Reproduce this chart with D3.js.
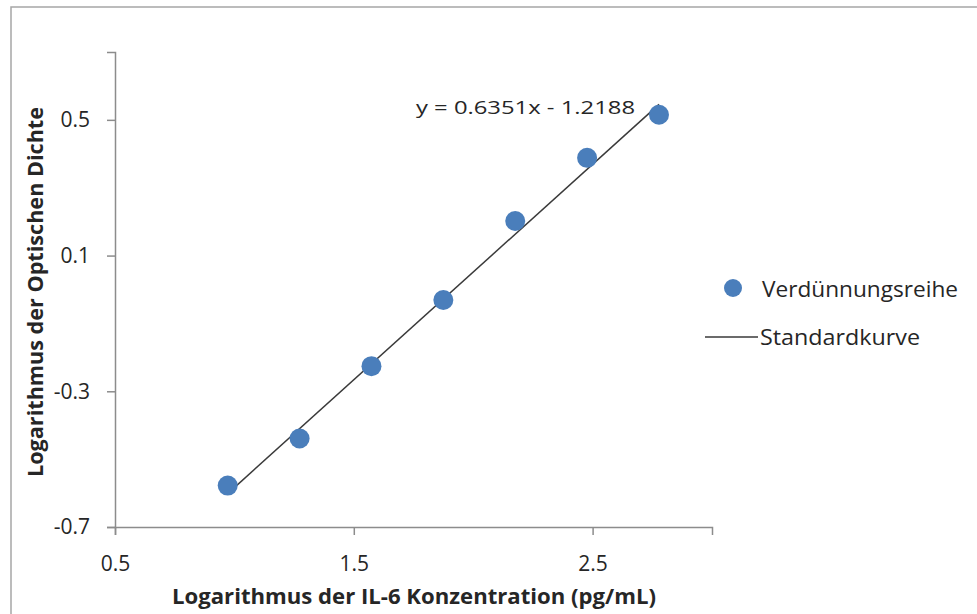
<!DOCTYPE html>
<html>
<head>
<meta charset="utf-8">
<script src="https://cdn.jsdelivr.net/npm/d3@7"></script>
<style>
  body { margin: 0; background: #fff; }
  text { font-family: "Open Sans", "Noto Sans", sans-serif; fill: #262626; }
</style>
</head>
<body>
<div id="chart"></div>
<script>
// log10 of the IL-6 dilution series (pg/mL) and log10 of the optical density
const logConc = [0.972, 1.273, 1.574, 1.875, 2.176, 2.477, 2.778];
const logOD = [-0.578, -0.439, -0.226, -0.031, 0.202, 0.388, 0.515];

// linear fit shown on the chart
const slope = 0.6351;
const intercept = -1.2188;

const xTicks = [0.5, 1.5, 2.5];
const yTicks = [-0.7, -0.3, 0.1, 0.5];
const xDomain = [0.5, 3.0];
const yDomain = [-0.7, 0.7];

const seriesName = 'Verdünnungsreihe';
const fitName = 'Standardkurve';
const xTitle = 'Logarithmus der IL-6 Konzentration (pg/mL)';
const yTitle = 'Logarithmus der Optischen Dichte';

const width = 977, height = 614;
const blue = '#4a7ebb';
const axisGrey = '#8c8c8c';

const xScale = d3.scaleLinear()
  .domain(xDomain)
  .range([115, 712])

const yScale = d3.scaleLinear()
  .domain(yDomain)
  .range([527, 52])

const svg = d3.select('#chart').append('svg')
  .attr('width', width)
  .attr('height', height)

// chart area frame
svg.append('rect')
  .attr('x', 11)
  .attr('y', 7)
  .attr('width', width + 10)
  .attr('height', height + 10)
  .attr('fill', 'none')
  .attr('stroke', '#a6a6a6')
  .attr('stroke-width', 1.5)

const xAxis = d3.axisBottom(xScale)
  .tickValues(xTicks)
  .tickSize(8)
  .tickPadding(21)
  .tickFormat(d3.format('.1f'))

const yAxis = d3.axisLeft(yScale)
  .tickValues(yTicks)
  .tickSize(8)
  .tickPadding(17)
  .tickFormat(d => d3.format('.1f')(d).replace('−', '-'))

const gx = svg.append('g')
  .attr('transform', `translate(0, ${yScale(yDomain[0])})`)
  .call(xAxis)

const gy = svg.append('g')
  .attr('transform', `translate(${xScale(xDomain[0])}, 0)`)
  .call(yAxis)

for (const g of [gx, gy]) {
  g.select('.domain').attr('stroke', axisGrey).attr('stroke-width', 1.5)
  g.selectAll('.tick line').attr('stroke', axisGrey).attr('stroke-width', 1.5)
  g.selectAll('.tick text')
    .attr('font-size', 21)
    .attr('font-family', '"Open Sans", sans-serif')
    .attr('fill', '#404040')
}

// trend line
const fitLine = d3.line()
  .x(d => xScale(d))
  .y(d => yScale(slope * d + intercept))

svg.append('path')
  .datum(d3.extent(logConc))
  .attr('d', fitLine)
  .attr('fill', 'none')
  .attr('stroke', '#3a3a3a')
  .attr('stroke-width', 1.5)

// data points
svg.selectAll('circle.pt')
  .data(logConc)
  .enter()
  .append('circle')
  .attr('class', 'pt')
  .attr('cx', d => xScale(d))
  .attr('cy', (d, i) => yScale(logOD[i]))
  .attr('r', 10)
  .attr('fill', blue)

// equation label
svg.append('text')
  .attr('x', 416)
  .attr('y', 114)
  .attr('font-size', 19)
  .attr('textLength', 219)
  .attr('lengthAdjust', 'spacingAndGlyphs')
  .text(`y = ${slope}x - ${Math.abs(intercept)}`)

// legend
const legend = svg.append('g')

legend.append('circle')
  .attr('cx', 733)
  .attr('cy', 288)
  .attr('r', 9)
  .attr('fill', blue)

legend.append('text')
  .attr('x', 762)
  .attr('y', 297)
  .attr('font-size', 22)
  .attr('textLength', 196)
  .attr('lengthAdjust', 'spacingAndGlyphs')
  .text(seriesName)

legend.append('line')
  .attr('x1', 705)
  .attr('x2', 758)
  .attr('y1', 337)
  .attr('y2', 337)
  .attr('stroke', '#3a3a3a')
  .attr('stroke-width', 1.5)

legend.append('text')
  .attr('x', 760)
  .attr('y', 345)
  .attr('font-size', 22)
  .attr('textLength', 160)
  .attr('lengthAdjust', 'spacingAndGlyphs')
  .text(fitName)

// axis titles
svg.append('text')
  .attr('x', 172)
  .attr('y', 604)
  .attr('font-size', 21)
  .attr('font-weight', 'bold')
  .attr('textLength', 484)
  .attr('lengthAdjust', 'spacingAndGlyphs')
  .text(xTitle)

svg.append('text')
  .attr('transform', 'translate(43, 477) rotate(-90)')
  .attr('font-size', 21)
  .attr('font-weight', 'bold')
  .attr('textLength', 370)
  .attr('lengthAdjust', 'spacingAndGlyphs')
  .text(yTitle)
</script>
</body>
</html>
